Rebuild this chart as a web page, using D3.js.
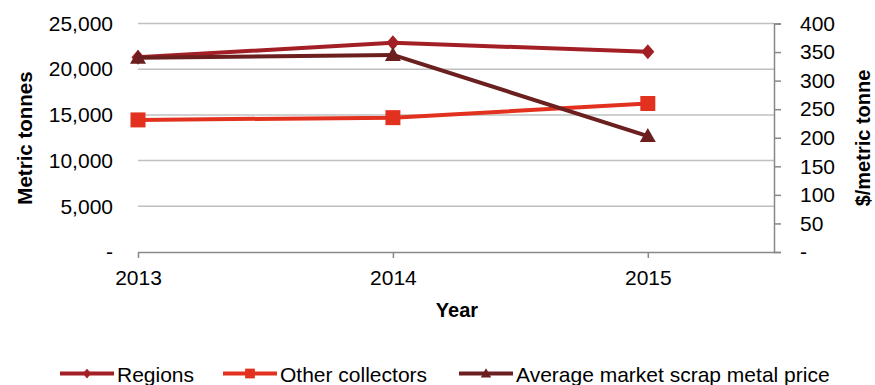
<!DOCTYPE html>
<html><head><meta charset="utf-8">
<script src="https://cdn.jsdelivr.net/npm/d3@7"></script>
<style>body{margin:0;background:#fff;}svg{display:block;font-family:"Liberation Sans",Arial,sans-serif;}</style>
</head><body>
<svg id="c" width="875" height="385"></svg>
<script>
const years = [2013, 2014, 2015];
const regions = [21300, 22900, 21900];
const otherCollectors = [14450, 14700, 16250];
const avgPrice = [340, 345, 203];
const leftTicks = [0, 5000, 10000, 15000, 20000, 25000];
const rightTicks = [0, 50, 100, 150, 200, 250, 300, 350, 400];
const seriesNames = ["Regions", "Other collectors", "Average market scrap metal price"];

const svg = d3.select("#c");
const L = 138, R = 774, T = 23.5, B = 252;
const x = d3.scaleLinear().domain([2013, 2015.495]).range([L, R]);
const yL = d3.scaleLinear().domain([0, 25000]).range([B, T]);
const yR = d3.scaleLinear().domain([0, 400]).range([B, T]);
const fmt = v => v === 0 ? "-" : d3.format(",")(v);
const FS = 21;

// gridlines
svg.append("g").selectAll("line").data(leftTicks.filter(d => d > 0)).join("line")
  .attr("x1", L).attr("x2", R).attr("y1", d => yL(d)).attr("y2", d => yL(d))
  .attr("stroke", "#c0c0c0").attr("stroke-width", 1.5);

// left axis labels
const gl = svg.append("g").attr("transform", `translate(${L},0)`)
  .call(d3.axisLeft(yL).tickValues(leftTicks).tickFormat(fmt).tickSize(0).tickPadding(25));
gl.select(".domain").remove();
gl.selectAll("text").attr("font-size", FS).attr("fill", "#000").style("font-family", "Liberation Sans, Arial");

// right axis
const gr = svg.append("g").attr("transform", `translate(${R},0)`)
  .call(d3.axisRight(yR).tickValues(rightTicks).tickFormat(fmt).tickSize(7).tickPadding(19));
gr.select(".domain").attr("stroke", "#888").attr("stroke-width", 1.5);
gr.selectAll(".tick line").attr("stroke", "#888").attr("stroke-width", 1.5);
gr.selectAll("text").attr("font-size", FS).attr("fill", "#000").style("font-family", "Liberation Sans, Arial");

// bottom axis
const gb = svg.append("g").attr("transform", `translate(0,${B})`)
  .call(d3.axisBottom(x).tickValues(years).tickFormat(d3.format("d")).tickSize(6).tickSizeOuter(0).tickPadding(12));
gb.select(".domain").attr("stroke", "#888").attr("stroke-width", 1.5);
gb.selectAll(".tick line").attr("stroke", "#888").attr("stroke-width", 1.5);
gb.selectAll("text").attr("font-size", FS).attr("fill", "#000").style("font-family", "Liberation Sans, Arial");

// axis titles
svg.append("text").attr("x", 457).attr("y", 317).attr("text-anchor", "middle")
  .attr("font-size", 20).attr("font-weight", "bold").text("Year");
svg.append("text").attr("transform", "translate(32,138) rotate(-90)").attr("text-anchor", "middle")
  .attr("font-size", 20.5).attr("font-weight", "bold").text("Metric tonnes");
svg.append("text").attr("transform", "translate(870,138) rotate(-90)").attr("text-anchor", "middle")
  .attr("font-size", 20).attr("font-weight", "bold").text("$/metric tonne");

const colors = ["#a31f26", "#e2321f", "#6b1f1f"];
// marker shapes (unit paths scaled by k)
const shapes = [
  k => `M0,${-7.5*k}L${6.5*k},0L0,${7.5*k}L${-6.5*k},0Z`,
  k => `M${-7.5*k},${-7.5*k}H${7.5*k}V${7.5*k}H${-7.5*k}Z`,
  k => `M0,${-8*k}L${8*k},${6*k}H${-8*k}Z`
];
const series = [
  {vals: regions, y: yL},
  {vals: otherCollectors, y: yL},
  {vals: avgPrice, y: yR}
];
series.forEach((s, i) => {
  const pts = years.map((yr, j) => [x(yr), s.y(s.vals[j])]);
  svg.append("path").attr("d", d3.line()(pts)).attr("fill", "none")
    .attr("stroke", colors[i]).attr("stroke-width", 4).attr("stroke-linejoin", "round");
  svg.append("g").selectAll("path").data(pts).join("path")
    .attr("transform", d => `translate(${d[0]},${d[1]})`)
    .attr("d", shapes[i](1)).attr("fill", colors[i]);
});

// legend
const legX = [60, 223, 459];
const legY = 373.5;
seriesNames.forEach((n, i) => {
  const g = svg.append("g").attr("transform", `translate(${legX[i]},${legY})`);
  g.append("line").attr("x1", 0).attr("x2", 54).attr("stroke", colors[i]).attr("stroke-width", 4);
  g.append("path").attr("transform", "translate(27,0)")
    .attr("d", shapes[i](0.65)).attr("fill", colors[i]);
  g.append("text").attr("x", 57).attr("y", 8.5).attr("font-size", 21).text(n);
});
</script>
</body></html>
